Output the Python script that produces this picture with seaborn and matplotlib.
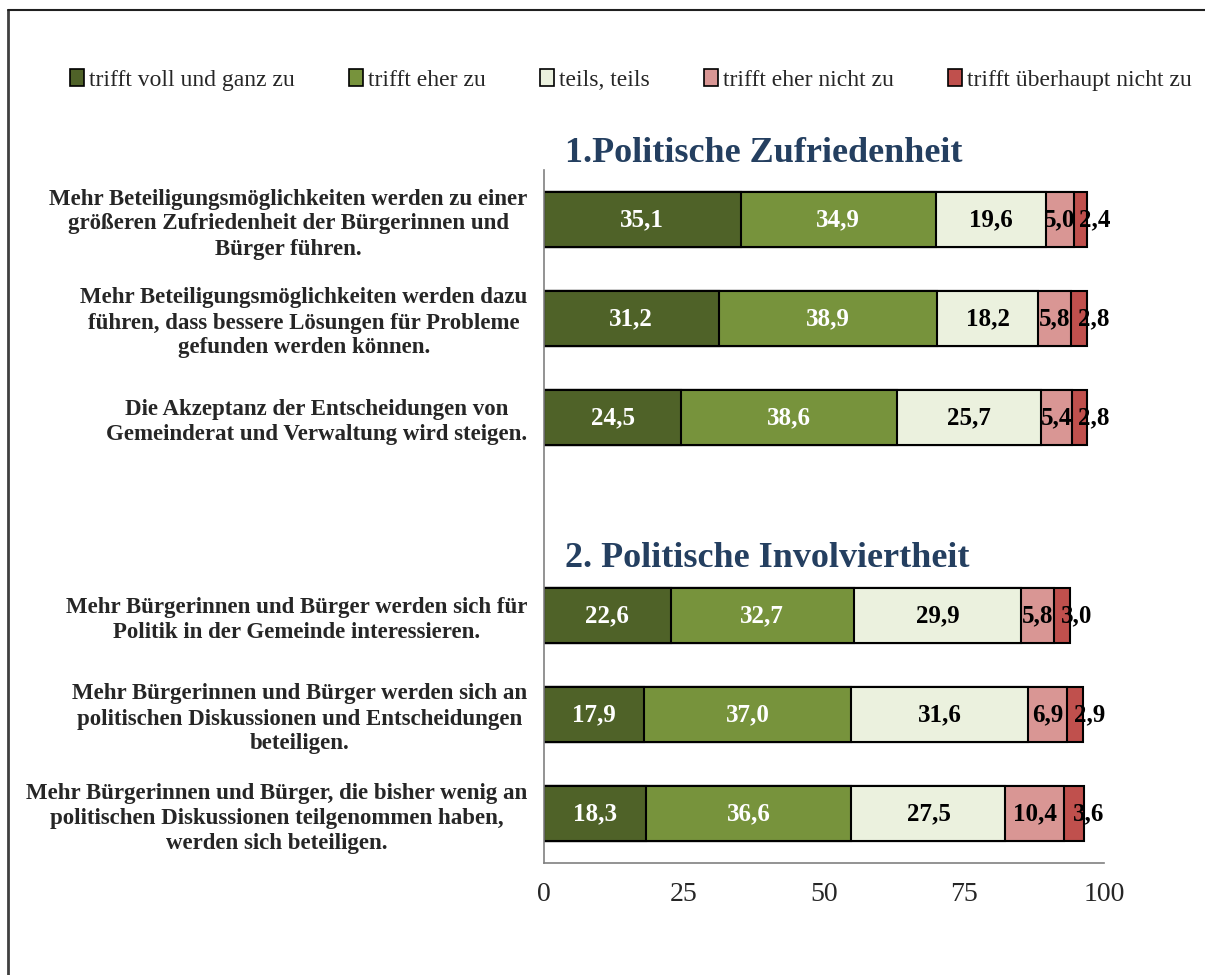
import numpy as np
import pandas as pd
import matplotlib.pyplot as plt
import seaborn as sb
from matplotlib.lines import Line2D
from matplotlib.patches import Patch

# Kategorien (eine leere Zeile zwischen den Blöcken)
statements = [
    "Mehr Beteiligungsmöglichkeiten werden zu einer\ngrößeren Zufriedenheit der Bürgerinnen und\nBürger führen.",
    "Mehr Beteiligungsmöglichkeiten werden dazu\nführen, dass bessere Lösungen für Probleme\ngefunden werden können.",
    "Die Akzeptanz der Entscheidungen von\nGemeinderat und Verwaltung wird steigen.",
    " ",
    "Mehr Bürgerinnen und Bürger werden sich für\nPolitik in der Gemeinde interessieren.",
    "Mehr Bürgerinnen und Bürger werden sich an\npolitischen Diskussionen und Entscheidungen\nbeteiligen.",
    "Mehr Bürgerinnen und Bürger, die bisher wenig an\npolitischen Diskussionen teilgenommen haben,\nwerden sich beteiligen.",
]
answers = ["trifft voll und ganz zu", "trifft eher zu", "teils, teils",
           "trifft eher nicht zu", "trifft überhaupt nicht zu"]

voll = [35.1, 31.2, 24.5, None, 22.6, 17.9, 18.3]
eher = [34.9, 38.9, 38.6, None, 32.7, 37.0, 36.6]
teils = [19.6, 18.2, 25.7, None, 29.9, 31.6, 27.5]
eher_nicht = [5.0, 5.8, 5.4, None, 5.8, 6.9, 10.4]
gar_nicht = [2.4, 2.8, 2.8, None, 3.0, 2.9, 3.6]

headings = ["1.Politische Zufriedenheit", "2. Politische Involviertheit"]
x_ticks = [0, 25, 50, 75, 100]

colors = ["#4F6228", "#77933C", "#EBF1DE", "#D99694", "#C0504D"]
text_colors = ["white", "white", "black", "black", "black"]

df = pd.DataFrame({"statement": statements, answers[0]: voll, answers[1]: eher,
                   answers[2]: teils, answers[3]: eher_nicht, answers[4]: gar_nicht})
df = df[df["statement"] != " "]
cum = df[answers].cumsum(axis=1)

sb.set_style("white")
plt.rcParams["font.family"] = ["Liberation Serif", "DejaVu Serif"]

fig = plt.figure(figsize=(12.05, 9.75), dpi=100)
ax = fig.add_axes([544 / 1205, 1 - 863 / 975, 560 / 1205, 693 / 975])

# gestapelte Balken: kumulierte Summen von hinten nach vorne zeichnen
for i in range(len(answers) - 1, -1, -1):
    layer = pd.DataFrame({"statement": df["statement"], "value": cum[answers[i]]})
    sb.barplot(data=layer, y="statement", x="value", order=statements, ax=ax,
               color=colors[i], saturation=1, width=0.56, edgecolor="black",
               linewidth=1.5, orient="h")

pos = {s: k for k, s in enumerate(statements)}
for _, row in df.iterrows():
    y = pos[row["statement"]]
    start = 0
    for i, a in enumerate(answers):
        v = row[a]
        xc = start + v / 2
        if i == len(answers) - 1:
            xc = start + v / 2 + 2.6
        ax.text(xc, y, f"{v:.1f}".replace(".", ","), ha="center", va="center",
                color=text_colors[i], fontsize=18, fontweight="bold")
        start += v

ax.set_xlim(0, 100)
ax.set_ylim(6.5, -0.5)
ax.set_xticks(x_ticks)
ax.set_xticklabels([str(t) for t in x_ticks], fontsize=20)
ax.set_xlabel("")
ax.set_ylabel("")
ax.set_yticks(range(len(statements)))
ax.set_yticklabels(statements, fontsize=16.5, fontweight="bold", linespacing=1.25,
                   multialignment="center")
ax.set_yticks(np.arange(-0.5, 7, 1), minor=True)
ax.tick_params(axis="y", which="major", length=0, pad=12)
ax.tick_params(axis="y", which="minor", length=5, color="#808080", direction="out")
ax.tick_params(axis="x", length=6, color="#808080", direction="out", pad=8)
for side in ["top", "right"]:
    ax.spines[side].set_visible(False)
for side in ["left", "bottom"]:
    ax.spines[side].set_color("#808080")
    ax.spines[side].set_linewidth(1.2)

ax.text(3.75, -0.67, headings[0], fontsize=26, fontweight="bold", color="#243F60",
        va="center", ha="left", clip_on=False)
ax.text(3.75, 3.42, headings[1], fontsize=26, fontweight="bold", color="#243F60",
        va="center", ha="left", clip_on=False)

handles = [Patch(facecolor=c, edgecolor="black", linewidth=1.2) for c in colors]
fig.legend(handles, answers, loc="center", bbox_to_anchor=(631 / 1205, 1 - 80 / 975),
           ncol=5, frameon=False, fontsize=17, handlelength=0.6, handleheight=0.7,
           handletextpad=0.2, columnspacing=2.3)

# Rahmen (oben und links sichtbar)
fig.add_artist(Line2D([8 / 1205, 8 / 1205], [0, 1 - 10 / 975], transform=fig.transFigure,
                      color="#404040", linewidth=2))
fig.add_artist(Line2D([8 / 1205, 1], [1 - 10 / 975, 1 - 10 / 975], transform=fig.transFigure,
                      color="#202020", linewidth=1.5))

fig.savefig("out.png", dpi=100)
